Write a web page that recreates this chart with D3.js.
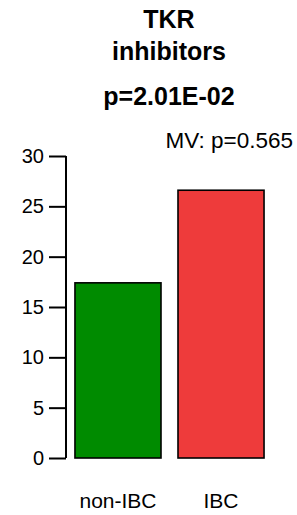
<!DOCTYPE html>
<html><head><meta charset="utf-8">
<script src="https://cdn.jsdelivr.net/npm/d3@7"></script>
<style>body{margin:0;background:#fff}svg{display:block}</style>
</head><body>
<svg id="c" width="297" height="515"></svg>
<script>
const categories = ["non-IBC", "IBC"];
const values = [17.4, 26.6];
const colors = ["#008B00", "#EE3B3B"];
const yTicks = [0, 5, 10, 15, 20, 25, 30];
const titleLines = ["TKR", "inhibitors"];
const pText = "p=2.01E-02";
const mvText = "MV: p=0.565";

const svg = d3.select("#c");
const font = "Liberation Sans, Arial, sans-serif";
const y = d3.scaleLinear().domain([0, 30]).range([458, 156]);
const x = d3.scaleBand().domain(categories).range([66, 273]).paddingInner(0.165).paddingOuter(0.087);

const ax = svg.append("g").attr("transform", "translate(66,0)")
  .call(d3.axisLeft(y).tickValues(yTicks).tickSize(17).tickPadding(5));
ax.select(".domain").attr("d", `M0,${y(30)}V${y(0)}`).attr("stroke", "#000").attr("stroke-width", 2).attr("fill", "none");
ax.selectAll(".tick line").attr("stroke", "#000").attr("stroke-width", 2);
ax.selectAll(".tick text").attr("font-family", font).attr("font-size", 20).attr("fill", "#000");

svg.selectAll("rect.bar").data(values).join("rect").attr("class", "bar")
  .attr("x", (d, i) => x(categories[i]))
  .attr("width", x.bandwidth())
  .attr("y", d => y(d))
  .attr("height", d => y(0) - y(d))
  .attr("fill", (d, i) => colors[i])
  .attr("stroke", "#000").attr("stroke-width", 1.6);

svg.selectAll("text.xl").data(categories).join("text").attr("class", "xl")
  .attr("x", d => x(d) + x.bandwidth() / 2).attr("y", 508)
  .attr("text-anchor", "middle").attr("font-family", font).attr("font-size", 21).text(d => d);

svg.selectAll("text.tt").data(titleLines).join("text").attr("class", "tt")
  .attr("x", 169).attr("y", (d, i) => 28 + i * 32)
  .attr("text-anchor", "middle").attr("font-family", font).attr("font-weight", "bold").attr("font-size", 25).text(d => d);
svg.append("text").attr("x", 169).attr("y", 105).attr("text-anchor", "middle")
  .attr("font-family", font).attr("font-weight", "bold").attr("font-size", 25).text(pText);
svg.append("text").attr("x", 293).attr("y", 148).attr("text-anchor", "end")
  .attr("font-family", font).attr("font-size", 22.5).text(mvText);
</script>
</body></html>
